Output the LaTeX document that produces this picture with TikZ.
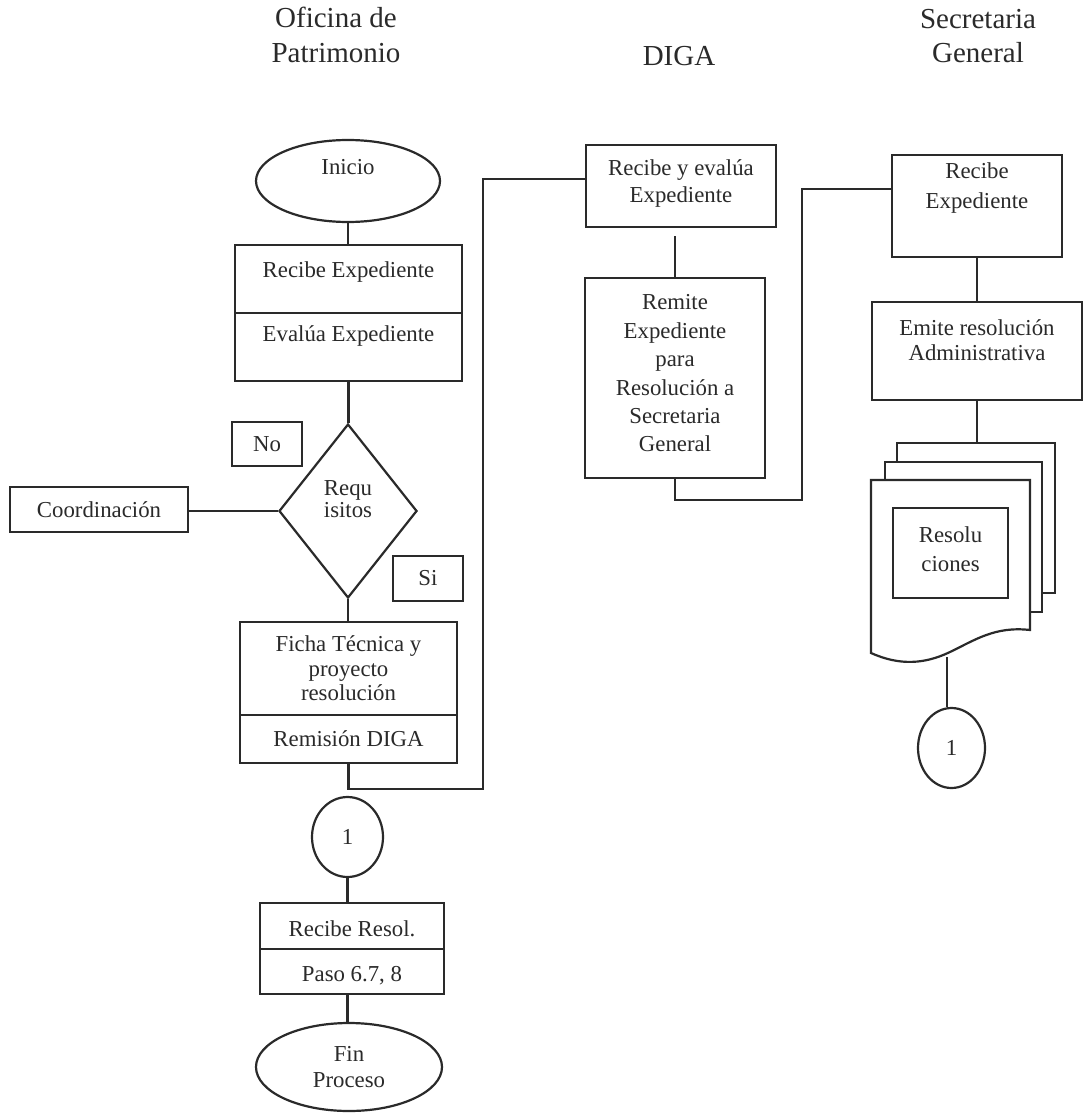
\documentclass[tikz,border=0pt]{standalone}
\usepackage{fontspec}
\setmainfont{Liberation Serif}
\usetikzlibrary{shapes.geometric}
\definecolor{ink}{HTML}{2A2A2A}
\newcommand\bodyfs[1]{\fontsize{22.8}{#1}\selectfont}
\newcommand\headfs[1]{\fontsize{29}{#1}\selectfont}
\begin{document}
\begin{tikzpicture}[x=1pt,y=-1pt,
  inkline/.style={draw=ink, line width=2.2pt},
  wire/.style={inkline},
  txt/.style={font=\bodyfs{26}, text=ink, align=center, inner sep=0pt},
  head/.style={font=\headfs{35}, text=ink, align=center, inner sep=0pt},
  stepbox/.style={inkline, fill=white, rectangle, inner sep=0pt},
  terminal/.style={inkline, fill=white, ellipse, inner sep=0pt},
  decide/.style={inkline, fill=white, diamond, inner sep=0pt},
  pagelink/.style={inkline, fill=white, ellipse, inner sep=0pt,
    minimum width=69pt, minimum height=80pt},
  docline/.style={inkline, fill=white, line join=miter}]

\useasboundingbox (0,0) rectangle (1085,1113);
\fill[white] (0,0) rectangle (1085,1113);

% column headings
\node[head] (hOP) at (336,35) {Oficina de\\Patrimonio};
\node[head] (hDI) at (679,56) {DIGA};
\node[head, font=\headfs{34}] (hSG) at (978,36.5) {Secretaria\\General};

% ---- Oficina de Patrimonio ----
\node[terminal, minimum width=184pt, minimum height=82pt,
  label={[txt, yshift=13.5pt]center:Inicio}] (inicio) at (348,181) {};
\node[stepbox, minimum width=227pt, minimum height=68pt,
  label={[txt, yshift=7.3pt]center:Recibe Expediente}] (re) at (348.5,279) {};
\node[stepbox, minimum width=227pt, minimum height=68pt,
  label={[txt, yshift=10.7pt]center:Evalúa Expediente}] (ee) at (348.5,347) {};
\node[decide, minimum width=138pt, minimum height=174pt,
  label={[txt, font=\bodyfs{22}, yshift=12pt]center:Requ\\isitos}] (req) at (348,511) {};
\node[stepbox, minimum width=70pt, minimum height=44pt,
  label={[txt]center:No}] (no) at (267,444) {};
\node[stepbox, minimum width=70pt, minimum height=45pt,
  label={[txt]center:Si}] (si) at (428,578.5) {};
\node[stepbox, minimum width=178pt, minimum height=45pt,
  label={[txt]center:Coordinación}] (coord) at (99,509.5) {};
\node[stepbox, minimum width=217pt, minimum height=93pt,
  label={[txt, font=\bodyfs{24.5}]center:Ficha Técnica y\\proyecto\\resolución}] (ficha) at (348.5,668.5) {};
\node[stepbox, minimum width=217pt, minimum height=48pt,
  label={[txt]center:Remisión DIGA}] (remision) at (348.5,739) {};
\node[pagelink, minimum width=71pt, label={[txt]center:1}] (c1) at (347.5,837) {};
\node[stepbox, minimum width=184pt, minimum height=46pt,
  label={[txt, yshift=-3pt]center:Recibe Resol.}] (rr) at (352,926) {};
\node[stepbox, minimum width=184pt, minimum height=45pt,
  label={[txt, yshift=-4pt]center:Paso 6.7, 8}] (paso) at (352,971.5) {};
\node[terminal, minimum width=186pt, minimum height=88pt,
  label={[txt]center:Fin\\Proceso}] (fin) at (349,1067) {};

% ---- DIGA ----
\node[stepbox, minimum width=190pt, minimum height=82pt,
  label={[txt, font=\bodyfs{27}, yshift=3pt]center:Recibe y evalúa\\Expediente}] (d1) at (681,186) {};
\node[stepbox, minimum width=180pt, minimum height=200pt,
  label={[txt, font=\bodyfs{28.4}, yshift=4.5pt]center:Remite\\Expediente\\para\\Resolución a\\Secretaria\\General}] (d2) at (675,378) {};

% ---- Secretaria General ----
\node[stepbox, minimum width=170pt, minimum height=102pt,
  label={[txt, font=\bodyfs{30}, yshift=18pt]center:Recibe\\Expediente}] (s1) at (977,206) {};
\node[stepbox, minimum width=210pt, minimum height=98pt,
  label={[txt, font=\bodyfs{25}, yshift=11pt]center:Emite resolución\\Administrativa}] (s2) at (977,351) {};

% stacked documents
\draw[docline] (897,443) rectangle (1055,593);
\draw[docline] (885,462) rectangle (1042,612);
\draw[docline] (871,480) -- (1030,480) -- (1030,630)
  .. controls (995,626) and (975,640) .. (950,652)
  .. controls (925,664) and (900,666) .. (871,653) -- cycle;
\node[stepbox, minimum width=115pt, minimum height=90pt,
  label={[txt, font=\bodyfs{29}, yshift=4pt]center:Resolu\\ciones}] (res) at (950.5,553) {};
\coordinate (docTop) at (976,443);
\coordinate (docBot) at (947,657);
\node[pagelink, minimum width=67pt, label={[txt]center:1}] (c2) at (951.5,748) {};

% connectors, left column
\draw[wire] (inicio.south) -- (inicio.south |- re.north);
\draw[wire] (ee.south) -- (ee.south |- req.north);
\draw[wire] (req.west) -- (req.west -| coord.east);
\draw[wire] (req.south) -- (req.south |- ficha.north);
\coordinate (j1) at (483,789);
\draw[wire] (remision.south) |- (j1) |- ([yshift=7pt]d1.west);
\draw[wire] (c1.south) -- (c1.south |- rr.north);
\draw[wire] (c1.south |- paso.south) -- (c1.south |- fin.north);

% connectors, DIGA
\draw[wire, shorten >=8pt] (d2.north) -- (d2.north |- d1.south);
\coordinate (j2) at (802,500);
\draw[wire] (d2.south) |- (j2) |- ([yshift=17pt]s1.west);

% connectors, Secretaria General
\draw[wire] (s1.south) -- (s1.south |- s2.north);
\draw[wire] (s2.south) -- (s2.south |- docTop);
\draw[wire] (docBot) -- (docBot |- c2.north);
\end{tikzpicture}
\end{document}
